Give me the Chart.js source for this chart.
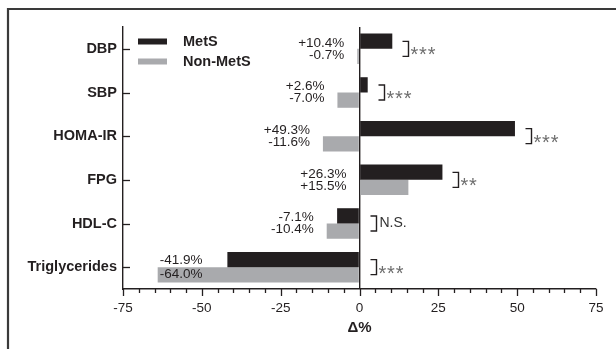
<!DOCTYPE html>
<html>
<head>
<meta charset="utf-8">
<script src="https://cdn.jsdelivr.net/npm/chart.js@4.4.1/dist/chart.umd.min.js"></script>
<style>
  html, body { margin: 0; padding: 0; background: #fff; }
  #wrap { width: 616px; height: 349px; position: relative; }
</style>
</head>
<body>
<div id="wrap"><canvas id="c" width="616" height="349"></canvas></div>
<script>
// Percent change from baseline, by marker
const categories = ['DBP', 'SBP', 'HOMA-IR', 'FPG', 'HDL-C', 'Triglycerides'];
const metsChange = [10.4, 2.6, 49.3, 26.3, -7.1, -41.9];
const nonMetsChange = [-0.7, -7.0, -11.6, 15.5, -10.4, -64.0];
const significance = ['***', '***', '***', '**', 'N.S.', '***'];
const xTickValues = [-75, -50, -25, 0, 25, 50, 75];
const seriesNames = ['MetS', 'Non-MetS'];

const INK = '#231f20';
const FONT = '"Liberation Sans", Arial, Helvetica, sans-serif';

function fmt(v) {
  return (v > 0 ? '+' : '') + v.toFixed(1) + '%';
}

const annotations = {
  id: 'annotations',
  afterDraw(chart) {
    const ctx = chart.ctx;
    const xs = chart.scales.x;
    const ys = chart.scales.y;
    const area = chart.chartArea;
    ctx.save();

    // outer frame (top and left edges)
    ctx.strokeStyle = '#3a3a3a';
    ctx.lineWidth = 2.2;
    ctx.beginPath();
    ctx.moveTo(8, 349);
    ctx.lineTo(8, 9);
    ctx.lineTo(616, 9);
    ctx.stroke();

    // category tick marks pointing into the plot
    ctx.strokeStyle = INK;
    ctx.lineWidth = 1.3;
    categories.forEach((c, i) => {
      const y = Math.round(ys.getPixelForValue(i)) + 0.5;
      ctx.beginPath();
      ctx.moveTo(area.left, y);
      ctx.lineTo(area.left + 7, y);
      ctx.stroke();
    });

    // x-axis major and minor tick marks
    for (let v = xs.min; v <= xs.max; v += 5) {
      const x = Math.round(xs.getPixelForValue(v)) + 0.5;
      const len = (v % 25 === 0) ? 7 : 4;
      ctx.beginPath();
      ctx.moveTo(x, area.bottom);
      ctx.lineTo(x, area.bottom + len);
      ctx.stroke();
    }

    // value labels and significance brackets
    categories.forEach((c, i) => {
      const a = metsChange[i];
      const b = nonMetsChange[i];
      const yc = ys.getPixelForValue(i);
      const la = fmt(a), lb = fmt(b);
      ctx.font = '13.5px ' + FONT;
      ctx.textBaseline = 'middle';
      const w = Math.max(ctx.measureText(la).width, ctx.measureText(lb).width);
      const lowPx = xs.getPixelForValue(Math.min(0, a, b));
      const right = lowPx - 13;
      ctx.fillStyle = INK;
      if (right - w < area.left + 5) {
        ctx.textAlign = 'left';
        const left = lowPx + 2;
        ctx.fillText(la, left, yc - 7);
        ctx.fillText(lb, left, yc + 7.5);
      } else {
        ctx.textAlign = 'right';
        ctx.fillText(la, right, yc - 5.8);
        ctx.fillText(lb, right, yc + 6);
      }

      const x0 = Math.round(xs.getPixelForValue(Math.max(0, a, b)) + 10) + 0.5;
      ctx.strokeStyle = INK;
      ctx.lineWidth = 1.4;
      ctx.beginPath();
      ctx.moveTo(x0, yc - 7.5);
      ctx.lineTo(x0 + 6, yc - 7.5);
      ctx.lineTo(x0 + 6, yc + 7.5);
      ctx.lineTo(x0, yc + 7.5);
      ctx.stroke();

      const s = significance[i];
      ctx.textAlign = 'left';
      if (s === 'N.S.') {
        ctx.fillStyle = '#333';
        ctx.font = '14px ' + FONT;
        ctx.textBaseline = 'middle';
        ctx.fillText(s, x0 + 9, yc);
      } else {
        // asterisks sit high in the font, so drop the baseline to centre them
        ctx.fillStyle = '#6e6e6e';
        ctx.font = '20px ' + FONT;
        ctx.textBaseline = 'alphabetic';
        ctx.letterSpacing = '0.8px';
        ctx.fillText(s, x0 + 8, yc + 12.5);
        ctx.letterSpacing = '0px';
      }
    });

    // legend
    ctx.font = 'bold 14.5px ' + FONT;
    ctx.textAlign = 'left';
    ctx.textBaseline = 'middle';
    chart.data.datasets.forEach((ds, k) => {
      const yc = k === 0 ? 41.5 : 61.5;
      ctx.fillStyle = ds.backgroundColor;
      ctx.fillRect(138, yc - 3, 29, 6);
      ctx.fillStyle = INK;
      ctx.fillText(ds.label, 183, yc);
    });

    ctx.restore();
  }
};

new Chart(document.getElementById('c'), {
  type: 'bar',
  data: {
    labels: categories,
    datasets: [
      { label: seriesNames[0], data: metsChange, backgroundColor: '#231f20',
        barPercentage: 1, categoryPercentage: 0.7, borderWidth: 0 },
      { label: seriesNames[1], data: nonMetsChange, backgroundColor: '#a9aaad',
        barPercentage: 1, categoryPercentage: 0.7, borderWidth: 0 }
    ]
  },
  options: {
    indexAxis: 'y',
    responsive: false,
    animation: false,
    devicePixelRatio: 1,
    layout: { padding: { top: 27, right: 20, left: 0, bottom: 0 } },
    plugins: {
      legend: { display: false },
      tooltip: { enabled: false }
    },
    scales: {
      x: {
        type: 'linear',
        min: -75,
        max: 75,
        afterBuildTicks: s => { s.ticks = xTickValues.map(v => ({ value: v })); },
        afterFit: s => { s.height = 60; },
        ticks: {
          color: INK,
          font: { family: FONT, size: 13.5 },
          padding: 11,
          maxRotation: 0
        },
        grid: {
          display: true,
          drawTicks: false,
          lineWidth: 1.4,
          color: c => (c.tick && c.tick.value === 0) ? INK : 'rgba(0,0,0,0)'
        },
        border: { display: true, color: INK, width: 1.4 },
        title: {
          display: true,
          text: 'Δ%',
          color: INK,
          font: { family: FONT, size: 15, weight: 'bold' },
          padding: { top: 0, bottom: 12 }
        }
      },
      y: {
        type: 'category',
        offset: true,
        afterFit: s => { s.width = 123; },
        ticks: {
          color: INK,
          font: { family: FONT, size: 14.5, weight: 'bold' },
          padding: 6
        },
        grid: { display: false, drawTicks: false },
        border: { display: true, color: INK, width: 1.4 }
      }
    }
  },
  plugins: [annotations]
});
</script>
</body>
</html>
